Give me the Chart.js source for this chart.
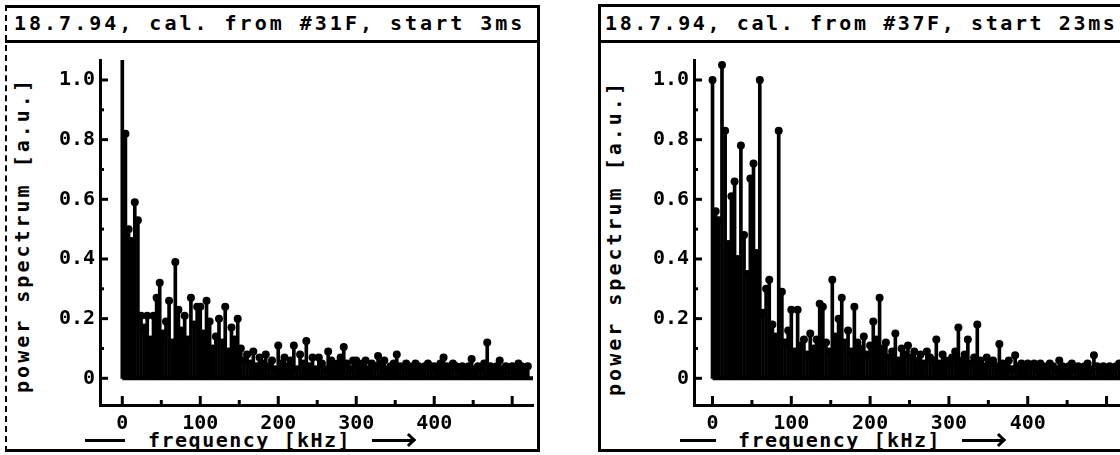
<!DOCTYPE html>
<html><head><meta charset="utf-8">
<script src="https://cdn.jsdelivr.net/npm/chart.js@4/dist/chart.umd.min.js"></script>
<style>
html,body{margin:0;padding:0;background:#fff;width:1120px;height:455px;overflow:hidden;position:relative;}
.box{position:absolute;box-sizing:border-box;border:3px solid #000;}
.hline{position:absolute;height:3px;background:#000;}
.title{position:absolute;font:bold 20px "DejaVu Sans Mono",monospace;letter-spacing:3px;line-height:30px;height:30px;white-space:nowrap;color:#000;}
.yt{position:absolute;font:bold 20px "DejaVu Sans Mono",monospace;letter-spacing:3px;line-height:20px;white-space:nowrap;transform:translate(-50%,-50%) rotate(-90deg);color:#000;}
.xt{position:absolute;font:bold 20px "DejaVu Sans Mono",monospace;letter-spacing:1.5px;line-height:20px;white-space:nowrap;color:#000;}
.arr{position:absolute;height:3px;background:#000;}
.arr::after{content:'';position:absolute;right:0;top:-4px;width:7px;height:7px;border-top:3px solid #000;border-right:3px solid #000;transform:rotate(45deg);}
canvas{position:absolute;}
</style>
</head><body>
<div class="box" style="left:5px;top:5px;width:535px;height:447px;border-left:2px dashed #000;"></div>
<div class="hline" style="left:5px;top:40px;width:535px;"></div>
<div class="title" style="left:14px;top:8px;">18.7.94, cal. from #31F, start 3ms</div>
<div class="yt" style="left:22px;top:235px;">power spectrum [a.u.]</div>
<div class="hline" style="left:85px;top:439px;width:40px;"></div>
<div class="xt" style="left:148px;top:430px;">frequency [kHz]</div>
<div class="arr" style="left:372px;top:439px;width:42px;"></div>
<canvas id="cL" width="530" height="404" style="left:7px;top:43px;"></canvas>

<div class="box" style="left:598px;top:4px;width:600px;height:448px;"></div>
<div class="hline" style="left:598px;top:40px;width:600px;"></div>
<div class="title" style="left:605px;top:8px;letter-spacing:2.6px;">18.7.94, cal. from #37F, start 23ms</div>
<div class="yt" style="left:614px;top:238px;">power spectrum [a.u.]</div>
<div class="hline" style="left:680px;top:439px;width:36px;"></div>
<div class="xt" style="left:738px;top:430px;">frequency [kHz]</div>
<div class="arr" style="left:962px;top:439px;width:42px;"></div>
<canvas id="cR" width="545" height="404" style="left:601px;top:43px;"></canvas>

<script>
// frequency grid [kHz]
const freq = [0,4,8,12,16,20,24,28,32,36,
  40,44,48,52,56,60,64,68,72,76,
  80,84,88,92,96,100,104,108,112,116,
  120,124,128,132,136,140,144,148,152,156,
  160,164,168,172,176,180,184,188,192,196,
  200,204,208,212,216,220,224,228,232,236,
  240,244,248,252,256,260,264,268,272,276,
  280,284,288,292,296,300,304,308,312,316,
  320,324,328,332,336,340,344,348,352,356,
  360,364,368,372,376,380,384,388,392,396,
  400,404,408,412,416,420,424,428,432,436,
  440,444,448,452,456,460,464,468,472,476,
  480,484,488,492,496,500,504,508,512,516,
  520];
// left panel: #31F, start 3ms
const powerL = [1.20,0.82,0.50,0.46,0.59,0.53,0.21,0.17,0.21,0.13,
  0.21,0.27,0.32,0.15,0.19,0.26,0.12,0.39,0.23,0.16,
  0.21,0.13,0.27,0.18,0.24,0.24,0.15,0.26,0.19,0.10,
  0.14,0.20,0.12,0.24,0.09,0.17,0.13,0.20,0.10,0.06,
  0.08,0.05,0.09,0.04,0.07,0.05,0.08,0.04,0.06,0.03,
  0.11,0.05,0.07,0.04,0.06,0.11,0.03,0.08,0.05,0.125,
  0.04,0.07,0.03,0.07,0.05,0.03,0.09,0.06,0.04,0.05,
  0.07,0.105,0.05,0.03,0.06,0.06,0.04,0.05,0.06,0.03,
  0.05,0.04,0.075,0.05,0.06,0.03,0.04,0.05,0.08,0.04,
  0.03,0.05,0.04,0.03,0.05,0.04,0.03,0.04,0.05,0.03,
  0.04,0.03,0.05,0.07,0.04,0.03,0.05,0.04,0.03,0.04,
  0.03,0.04,0.065,0.03,0.04,0.03,0.05,0.12,0.04,0.03,
  0.04,0.06,0.03,0.04,0.03,0.04,0.03,0.05,0.04,0.03,
  0.04];
// right panel: #37F, start 23ms
const powerR = [1.00,0.56,0.53,1.05,0.83,0.45,0.61,0.66,0.40,0.78,
  0.48,0.35,0.67,0.72,0.42,1.00,0.22,0.30,0.33,0.18,
  0.14,0.83,0.29,0.12,0.16,0.23,0.09,0.23,0.11,0.13,
  0.08,0.15,0.10,0.13,0.25,0.24,0.12,0.09,0.33,0.14,
  0.20,0.27,0.12,0.16,0.09,0.24,0.12,0.10,0.14,0.08,
  0.11,0.19,0.13,0.27,0.10,0.12,0.07,0.09,0.15,0.06,
  0.10,0.08,0.11,0.07,0.09,0.06,0.08,0.05,0.09,0.07,
  0.06,0.13,0.05,0.08,0.06,0.05,0.07,0.09,0.17,0.06,
  0.08,0.13,0.05,0.07,0.18,0.06,0.04,0.07,0.05,0.06,
  0.04,0.115,0.05,0.04,0.06,0.03,0.077,0.04,0.05,0.03,
  0.05,0.04,0.05,0.03,0.05,0.04,0.03,0.05,0.04,0.03,
  0.06,0.04,0.03,0.04,0.05,0.03,0.04,0.03,0.04,0.05,
  0.03,0.077,0.04,0.03,0.04,0.03,0.04,0.03,0.04,0.05,
  0.03];

const yMajorTicks = [0, 0.2, 0.4, 0.6, 0.8, 1.0];
const yTickLabels = ['0', '0.2', '0.4', '0.6', '0.8', '1.0'];
const yMinorTicks = [0.1, 0.3, 0.5, 0.7, 0.9];
const xMajorTicks = [0, 100, 200, 300, 400, 500];
const xMinorTicks = [50, 150, 250, 350, 450];
const xTickValues = [0, 100, 200, 300, 400];
const xTickLabels = ['0', '100', '200', '300', '400'];

const FONT = {family: "'DejaVu Sans Mono', monospace", weight: 'bold', size: 20};

const inTicks = {
  id: 'inTicks',
  afterDatasetsDraw(chart) {
    const {ctx, chartArea: a, scales: {x, y}} = chart;
    ctx.save();
    ctx.strokeStyle = '#000';
    ctx.lineWidth = 3;
    const seg = (x1, y1, x2, y2) => { ctx.beginPath(); ctx.moveTo(x1, y1); ctx.lineTo(x2, y2); ctx.stroke(); };
    const y0 = y.getPixelForValue(0);
    ctx.lineWidth = 4;
    seg(x.getPixelForValue(freq[0]), y0, a.right, y0);
    ctx.lineWidth = 3;
    yMajorTicks.forEach(v => { const p = y.getPixelForValue(v); seg(a.left, p, a.left + 8, p); });
    yMinorTicks.forEach(v => { const p = y.getPixelForValue(v); seg(a.left, p, a.left + 4, p); });
    xMajorTicks.forEach(v => { const p = x.getPixelForValue(v); seg(p, a.bottom, p, a.bottom - 9); });
    xMinorTicks.forEach(v => { const p = x.getPixelForValue(v); seg(p, a.bottom, p, a.bottom - 5); });
    ctx.restore();
  }
};

function makeChart(id, values, xMin, xMax) {
  const pts = freq.map((f, i) => ({x: f, y: values[i]}));
  return new Chart(document.getElementById(id), {
    type: 'bar',
    data: {datasets: [
      {type: 'scatter', data: pts, pointRadius: 4, pointHoverRadius: 4,
       pointBackgroundColor: '#000', pointBorderWidth: 0, clip: 0, order: 0},
      {type: 'bar', data: pts, backgroundColor: '#000', barThickness: 3,
       borderWidth: 0, clip: 0, order: 1}
    ]},
    options: {
      responsive: false, animation: false, events: [],
      layout: {padding: 0},
      plugins: {legend: {display: false}, tooltip: {enabled: false}},
      scales: {
        x: {type: 'linear', min: xMin, max: xMax, offset: false,
            grid: {display: false, drawTicks: false},
            border: {display: true, color: '#000', width: 3},
            afterBuildTicks: s => { s.ticks = xTickValues.map(v => ({value: v})); },
            afterFit: s => { s.height = 42; },
            ticks: {autoSkip: false, maxRotation: 0, padding: 7, color: '#000', font: FONT,
                    callback: (v, i) => xTickLabels[i]}},
        y: {type: 'linear', min: -0.0895, max: 1.067,
            grid: {display: false, drawTicks: false},
            border: {display: true, color: '#000', width: 3},
            afterBuildTicks: s => { s.ticks = yMajorTicks.map(v => ({value: v})); },
            afterFit: s => { s.width = 93; },
            ticks: {autoSkip: false, padding: 5, color: '#000', font: FONT,
                    callback: (v, i) => yTickLabels[i]}}
      }
    },
    plugins: [inTicks]
  });
}

makeChart('cL', powerL, -28.6, 526.7);
makeChart('cR', powerR, -23.5, 545);
</script>
</body></html>
